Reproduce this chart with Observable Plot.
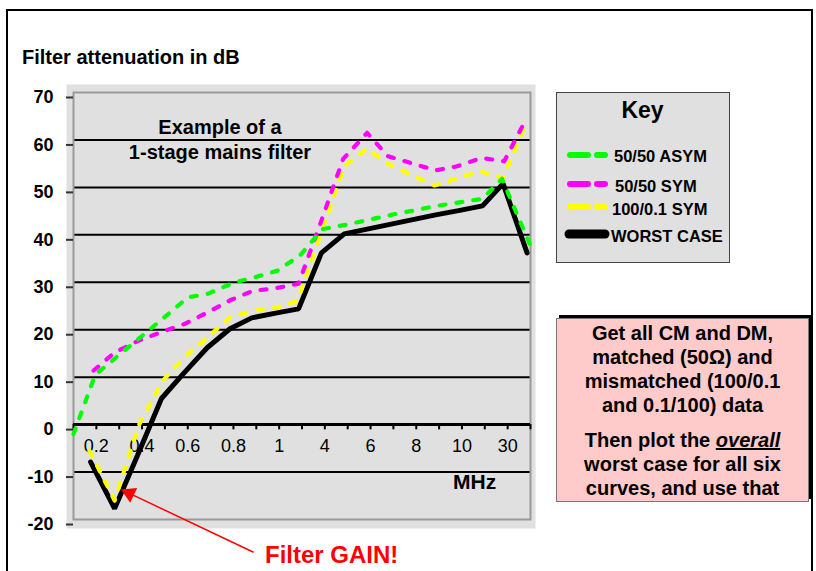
<!DOCTYPE html>
<html>
<head>
<meta charset="utf-8">
<script src="https://cdn.jsdelivr.net/npm/d3@7"></script>
<script src="https://cdn.jsdelivr.net/npm/@observablehq/plot@0.6"></script>
<style>
  body { margin: 0; background: #fff; font-family: "Liberation Sans", Arial, sans-serif; }
  #wrap { position: relative; width: 816px; height: 571px; overflow: hidden; background: #fff; }
  .t { position: absolute; white-space: nowrap; font-weight: bold; line-height: 1; color: #000; }
  #key { position: absolute; left: 556px; top: 92px; width: 174px; height: 171px; background: #e0e0e0; border: 1.5px solid #444; box-sizing: border-box; }
  #note { position: absolute; left: 556px; top: 318px; width: 253px; height: 184px; background: #ffcaca; border: 1px solid #777; box-sizing: border-box; box-shadow: 3px -3px 0 #000; text-align: center; font-weight: bold; font-size: 20px; line-height: 24px; }
  #note p { margin: 0; }
</style>
</head>
<body>
<div id="wrap">
  <div id="chart" style="position:absolute;left:0;top:0"></div>
  <div style="position:absolute;left:6px;top:9px;width:807px;height:600px;border:2px solid #000;box-sizing:border-box;"></div>
  <div class="t" style="left:22px;top:47px;font-size:20px;">Filter attenuation in dB</div>
  <div class="t" style="left:120px;width:200px;text-align:center;top:117px;font-size:20px;">Example of a</div>
  <div class="t" style="left:120px;width:200px;text-align:center;top:142px;font-size:20px;">1-stage mains filter</div>
  <div class="t" style="left:453px;top:471px;font-size:21px;">MHz</div>
  <div class="t" style="left:265px;top:543px;font-size:24px;color:#ff0000;">Filter GAIN!</div>
  <div id="key">
    <div class="t" style="left:0;width:171px;text-align:center;top:6px;font-size:23px;">Key</div>
    <svg style="position:absolute;left:0;top:0" width="172" height="168" id="swatches"></svg>
    <div class="t" style="left:57px;top:55px;font-size:16.5px;">50/50 ASYM</div>
    <div class="t" style="left:58px;top:85px;font-size:16.5px;">50/50 SYM</div>
    <div class="t" style="left:55px;top:108px;font-size:16.5px;">100/0.1 SYM</div>
    <div class="t" style="left:54px;top:135px;font-size:16.5px;">WORST CASE</div>
  </div>
  <div id="note">
    <p style="margin-top:2px">Get all CM and DM,<br>matched (50&Omega;) and<br>mismatched (100/0.1<br>and 0.1/100) data</p>
    <p style="margin-top:11px">Then plot the <i><u>overall</u></i><br>worst case for all six<br>curves, and use that</p>
  </div>
</div>
<script>
// ---- data (x = position along the category axis, ticks 0..20; y = dB) ----
const xLabels = ["0.2", "0.4", "0.6", "0.8", "1", "4", "6", "8", "10", "30"];
const xTickPos = [0,1,2,3,4,5,6,7,8,9,10,11,12,13,14,15,16,17,18,19,20];
const yTicks = [-20, -10, 0, 10, 20, 30, 40, 50, 60, 70];
const gridVals = [-10, 10, 20, 30, 40, 50, 60];

const asymX = [0, 0.95, 1.9, 2.9, 3.9, 5.0, 5.9, 7.0, 7.9, 8.9, 9.9, 10.9, 11.9, 13.9, 15.9, 17.9, 18.75, 20];
const asymY = [-2, 10.5, 14.3, 18.3, 22.3, 26.8, 27.6, 29.9, 31.0, 32.4, 35.6, 41.2, 42.1, 44.2, 46.1, 47.6, 51.8, 37.7];

const symX = [0.88, 1.8, 2.85, 3.85, 4.85, 5.85, 6.85, 7.85, 8.8, 9.85, 10.85, 11.8, 12.85, 13.75, 14.85, 15.85, 16.75, 17.85, 18.85, 19.85];
const symY = [11.4, 15.2, 17.7, 19.5, 21.2, 23.6, 26.2, 28.2, 28.7, 29.7, 43, 56, 61.5, 56.6, 55.0, 53.6, 54.4, 56.2, 55.5, 64.8];

const misX = [0.7, 1.8, 2.85, 3.9, 4.85, 5.85, 6.85, 7.85, 8.85, 9.8, 10.85, 11.85, 12.85, 13.75, 14.8, 15.8, 16.8, 17.8, 18.8, 19.8];
const misY = [-5.5, -16, -0.2, 9.2, 14.2, 18.3, 22.6, 24.0, 24.6, 26.1, 40.5, 54.5, 58.2, 55.0, 52.6, 50.4, 51.9, 53.4, 52.0, 63.5];

const worstX = [0.75, 1.8, 2.8, 3.85, 4.8, 5.85, 6.85, 7.8, 8.85, 9.85, 10.85, 11.85, 12.85, 13.85, 14.85, 15.85, 16.85, 17.9, 18.8, 19.85];
const worstY = [-7.9, -17.7, -6.5, 5.5, 10.7, 16.2, 20.2, 22.5, 23.5, 24.4, 36.2, 40.2, 41.2, 42.2, 43.2, 44.2, 45.1, 46.1, 50.8, 36.2];

// annotation arrow ("Filter GAIN!") in chart coordinates
const arrowStart = {x: 7.88, y: -26.9};
const arrowHead = {x: 2.45, y: -14.5};

const rows = (xs, ys) => xs.map((x, i) => ({x, y: ys[i]}));
const asym = rows(asymX, asymY), sym = rows(symX, symY), mis = rows(misX, misY), worst = rows(worstX, worstY);

const dash = {strokeWidth: 4.2, strokeDasharray: "6,11", strokeLinecap: "round"};

const chart = Plot.plot({
  width: 816, height: 571,
  marginLeft: 73, marginRight: 286, marginTop: 92, marginBottom: 52,
  style: {fontFamily: "'Liberation Sans', Arial, sans-serif", fontSize: "18px", background: "transparent"},
  x: {domain: [0, 20], axis: null},
  y: {domain: [-20, 70], axis: null},
  marks: [
    Plot.frame({fill: "#e0e0e0", stroke: null, insetLeft: -7, insetTop: -8, insetRight: -5, insetBottom: -9}),
    Plot.ruleY(gridVals, {stroke: "#000", strokeWidth: 2}),
    Plot.frame({stroke: "#999", strokeWidth: 2}),
    Plot.ruleY([0], {stroke: "#000", strokeWidth: 3}),
    Plot.ruleX(xTickPos, {x: d => d, y1: 0, y2: -1.1, stroke: "#000", strokeWidth: 2}),
    Plot.axisY({ticks: yTicks, tickSize: 7, tickPadding: 13, stroke: "#333", strokeWidth: 2, fontWeight: "bold", fontSize: 18, dy: 5, label: null, tickFormat: d => String(d)}),
    Plot.text(xLabels, {x: (d, i) => 2 * i + 1, y: () => 0, text: d => d, dy: 22, fontSize: 18, fill: "#000"}),
    Plot.line(worst, {x: "x", y: "y", stroke: "#000", strokeWidth: 5, strokeLinejoin: "miter"}),
    Plot.line(mis, {x: "x", y: "y", stroke: "#ffff00", ...dash}),
    Plot.line(sym, {x: "x", y: "y", stroke: "#ff00ff", ...dash}),
    Plot.line(asym, {x: "x", y: "y", stroke: "#00ff00", ...dash}),
    Plot.link([{a: arrowStart, b: arrowHead}], {x1: d => d.a.x, y1: d => d.a.y, x2: d => d.b.x, y2: d => d.b.y, stroke: "#ff0000", strokeWidth: 1.5}),
    Plot.dot([arrowHead], {x: "x", y: "y", symbol: "triangle", r: 6, fill: "#ff0000", stroke: null, rotate: -64.5})
  ]
});
document.getElementById("chart").appendChild(chart);

// legend swatches
const sw = d3.select("#swatches");
const swRows = [
  {c: "#00ff00", y: 62, dashed: true},
  {c: "#ff00ff", y: 91, dashed: true},
  {c: "#ffff00", y: 114, dashed: true},
  {c: "#000000", y: 141, dashed: false}
];
swRows.forEach(r => {
  if (r.dashed) {
    sw.append("line").attr("x1", 13).attr("x2", 31).attr("y1", r.y).attr("y2", r.y)
      .attr("stroke", r.c).attr("stroke-width", 6).attr("stroke-linecap", "round");
    sw.append("line").attr("x1", 40).attr("x2", 48).attr("y1", r.y).attr("y2", r.y)
      .attr("stroke", r.c).attr("stroke-width", 6).attr("stroke-linecap", "round");
  } else {
    sw.append("line").attr("x1", 12).attr("x2", 48).attr("y1", r.y).attr("y2", r.y)
      .attr("stroke", r.c).attr("stroke-width", 9).attr("stroke-linecap", "round");
  }
});
</script>
</body>
</html>
